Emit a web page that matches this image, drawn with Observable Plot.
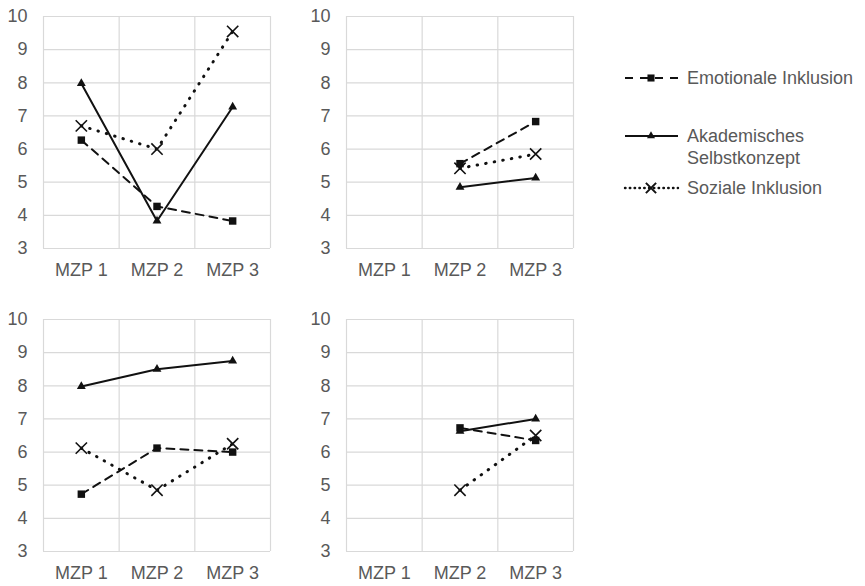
<!DOCTYPE html>
<html>
<head>
<meta charset="utf-8">
<script src="https://cdn.jsdelivr.net/npm/d3@7"></script>
<script src="https://cdn.jsdelivr.net/npm/@observablehq/plot@0.6"></script>
<style>
  html, body { margin: 0; padding: 0; background: #fff; }
  #chart { position: relative; width: 865px; height: 586px; background: #fff; overflow: hidden; }
  #chart > svg, #chart > div { position: absolute; }
</style>
</head>
<body>
<div id="chart"></div>
<script>
// ---------- data ----------
const categories = ["MZP 1", "MZP 2", "MZP 3"];
const seriesNames = ["Emotionale Inklusion", "Akademisches Selbstkonzept", "Soziale Inklusion"];
const yTicks = [3, 4, 5, 6, 7, 8, 9, 10];

// panel 1 (top left)
const p1Emotional = [6.27, 4.27, 3.83];
const p1Akademisch = [7.98, 3.83, 7.27];
const p1Sozial = [6.70, 6.00, 9.55];
// panel 2 (top right)
const p2Emotional = [null, 5.56, 6.83];
const p2Akademisch = [null, 4.85, 5.13];
const p2Sozial = [null, 5.42, 5.85];
// panel 3 (bottom left)
const p3Emotional = [4.73, 6.12, 6.00];
const p3Akademisch = [7.98, 8.50, 8.75];
const p3Sozial = [6.12, 4.85, 6.25];
// panel 4 (bottom right)
const p4Emotional = [null, 6.73, 6.35];
const p4Akademisch = [null, 6.63, 7.00];
const p4Sozial = [null, 4.85, 6.50];

// ---------- styling ----------
const textColor = "#595959";
const gridColor = "#d9d9d9";
const ink = "#111";
const fontFamily = "'Liberation Sans', Arial, sans-serif";

const seriesStyle = {
  "Emotionale Inklusion": {line: {strokeDasharray: "8,6", strokeWidth: 2}, dot: {symbol: "square", r: 4.2, fill: ink, stroke: "none"}},
  "Akademisches Selbstkonzept": {line: {strokeWidth: 2}, dot: {symbol: "triangle", r: 3.3, fill: ink, stroke: "none"}},
  "Soziale Inklusion": {line: {strokeDasharray: "0.5,8.2", strokeWidth: 3, strokeLinecap: "round"}, dot: {symbol: "times", r: 5.2, fill: "none", stroke: ink, strokeWidth: 1.6}}
};

function rowsFor(emo, akad, soz) {
  const rows = [];
  [emo, akad, soz].forEach((vals, si) => {
    vals.forEach((v, ci) => rows.push({series: seriesNames[si], cat: categories[ci], xi: ci + 1, value: v}));
  });
  return rows;
}

const panels = [
  {rows: rowsFor(p1Emotional, p1Akademisch, p1Sozial), left: 0, top: 0},
  {rows: rowsFor(p2Emotional, p2Akademisch, p2Sozial), left: 302.7, top: 0},
  {rows: rowsFor(p3Emotional, p3Akademisch, p3Sozial), left: 0, top: 303},
  {rows: rowsFor(p4Emotional, p4Akademisch, p4Sozial), left: 302.7, top: 303}
];

const chart = document.getElementById("chart");

panels.forEach(p => {
  const marks = [
    Plot.ruleY(yTicks, {stroke: gridColor, strokeWidth: 1.2}),
    Plot.ruleX(d3.range(0.5, categories.length + 1, 1), {stroke: gridColor, strokeWidth: 1.2})
  ];
  seriesNames.forEach(s => {
    const data = p.rows.filter(d => d.series === s);
    const st = seriesStyle[s];
    marks.push(Plot.line(data, {x: "xi", y: "value", stroke: ink, ...st.line}));
  });
  seriesNames.forEach(s => {
    const data = p.rows.filter(d => d.series === s && d.value != null);
    const st = seriesStyle[s];
    marks.push(Plot.dot(data, {x: "xi", y: "value", ...st.dot}));
  });
  const svg = Plot.plot({
    width: 300,
    height: 295,
    marginLeft: 43,
    marginRight: 30,
    marginTop: 16,
    marginBottom: 47,
    style: {fontFamily, fontSize: "18px", color: textColor, background: "transparent", overflow: "visible"},
    x: {type: "linear", domain: [0.5, categories.length + 0.5], ticks: categories.map((c, i) => i + 1),
        tickFormat: d => categories[d - 1], tickSize: 0, tickPadding: 15, label: null},
    y: {type: "linear", domain: [3, 10], ticks: yTicks, tickFormat: d => String(d), tickSize: 0, tickPadding: 16, label: null},
    marks
  });
  svg.style.left = p.left + "px";
  svg.style.top = p.top + "px";
  chart.appendChild(svg);
});

// ---------- legend ----------
const legend = d3.create("svg")
  .attr("width", 265).attr("height", 190)
  .style("left", "600px").style("top", "40px")
  .style("font-family", fontFamily).style("font-size", "18px");

const legendItems = [
  {series: seriesNames[0], y: 38, lines: ["Emotionale Inklusion"], dash: "8,7", width: 2, cap: "butt"},
  {series: seriesNames[1], y: 96, lines: ["Akademisches", "Selbstkonzept"], dash: null, width: 2, cap: "butt"},
  {series: seriesNames[2], y: 148, lines: ["Soziale Inklusion"], dash: "0.5,4.3", width: 2.4, cap: "round"}
];
legendItems.forEach(it => {
  const g = legend.append("g");
  g.append("line").attr("x1", 25).attr("x2", 78).attr("y1", it.y).attr("y2", it.y)
    .attr("stroke", ink).attr("stroke-width", it.width)
    .attr("stroke-dasharray", it.dash).attr("stroke-linecap", it.cap);
  const sym = seriesStyle[it.series].dot;
  const symType = {square: d3.symbolSquare, triangle: d3.symbolTriangle, times: d3.symbolTimes}[sym.symbol];
  const size = sym.symbol === "times" ? 70 : sym.symbol === "square" ? 50 : 28;
  const path = g.append("path").attr("d", d3.symbol(symType, size)()).attr("transform", `translate(51,${it.y})`);
  if (sym.symbol === "times") path.attr("fill", "none").attr("stroke", ink).attr("stroke-width", 2);
  else path.attr("fill", ink);
  it.lines.forEach((t, i) => {
    g.append("text").attr("x", 87).attr("y", it.y + i * 21.5).attr("dy", "0.35em")
      .attr("fill", textColor).text(t);
  });
});
chart.appendChild(legend.node());
</script>
</body>
</html>
